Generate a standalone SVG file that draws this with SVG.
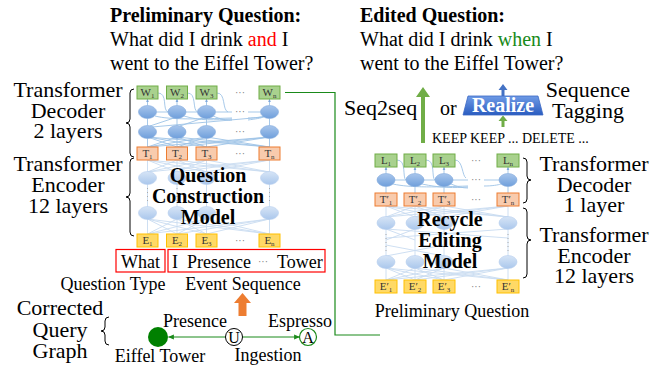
<svg xmlns="http://www.w3.org/2000/svg" width="662" height="368" viewBox="0 0 662 368">
<defs>
<style>
.t{font-family:"Liberation Serif","Times New Roman",serif;fill:#000}
.b{font-weight:bold}
.bw{fill:#a9d18e;stroke:#70ad47;stroke-width:1}
.bt{fill:#f8cbad;stroke:#ed7d31;stroke-width:1}
.be{fill:#ffd966;stroke:#ffc000;stroke-width:1}
.bx{font-family:"Liberation Serif","Times New Roman",serif;font-size:11px;fill:#333;text-anchor:middle}
.ell{fill:url(#eg);stroke:#7fa8dc;stroke-width:0.6}
.elll{fill:url(#egl);stroke:#b7cfee;stroke-width:0.6}
.ln{stroke:#9dc3e6;stroke-width:0.9;fill:none}
.lnl{stroke:#c8dbf1;stroke-width:0.9;fill:none}
.dots{font-family:"Liberation Serif",serif;font-size:10px;fill:#777;text-anchor:middle}
.vd{stroke:#aaa;stroke-width:1;stroke-dasharray:1 3;fill:none}
.br{fill:none;stroke:#000;stroke-width:1}
.g{stroke:#1a8a1a;stroke-width:1.2;fill:none}
</style>
<linearGradient id="eg" x1="0" y1="0" x2="0" y2="1"><stop offset="0" stop-color="#a9c6ec"/><stop offset="1" stop-color="#6f9fdb"/></linearGradient>
<linearGradient id="egl" x1="0" y1="0" x2="0" y2="1"><stop offset="0" stop-color="#d7e5f6"/><stop offset="1" stop-color="#aac7ec"/></linearGradient>
<linearGradient id="rg" x1="0" y1="0" x2="0" y2="1"><stop offset="0" stop-color="#6f9be6"/><stop offset="1" stop-color="#2a5cc0"/></linearGradient>
<marker id="ga" viewBox="0 0 10 10" refX="9" refY="5" markerWidth="6" markerHeight="6" orient="auto"><path d="M0,1 L10,5 L0,9 z" fill="#1a8a1a"/></marker>
<marker id="ba" viewBox="0 0 10 10" refX="9" refY="5" markerWidth="4" markerHeight="4" orient="auto"><path d="M0,1 L10,5 L0,9 z" fill="#7fa8dc"/></marker>
</defs>
<rect width="662" height="368" fill="#fff"/>

<!-- Titles -->
<g id="prelim-question">
<text class="t" font-size="20"><tspan x="110" y="22" font-weight="bold">Preliminary Question:</tspan><tspan x="110" y="46">What did I drink <tspan fill="#ff0000">and</tspan> I</tspan><tspan x="110" y="70">went to the Eiffel Tower?</tspan></text>
</g>
<g id="edited-question">
<text class="t" font-size="20"><tspan x="360" y="22" font-weight="bold">Edited Question:</tspan><tspan x="360" y="46">What did I drink <tspan fill="#1a8a1a">when</tspan> I</tspan><tspan x="360" y="70">went to the Eiffel Tower?</tspan></text>
</g>

<!-- Connectors -->
<g id="connectors">
<!-- left decoder -->
<path class="ln" d="M158,93 C168,93 162,110 168,112"/>
<path class="ln" d="M187.5,93 C197,93 192,110 197.5,112"/>
<path class="ln" d="M217,93 C226,93 222,110 228,112"/>
<line class="ln" x1="147.5" y1="105.5" x2="147.5" y2="99" marker-end="url(#ba)"/>
<line class="ln" x1="177" y1="105.5" x2="177" y2="99" marker-end="url(#ba)"/>
<line class="ln" x1="206.5" y1="105.5" x2="206.5" y2="99" marker-end="url(#ba)"/>
<line class="ln" x1="269.5" y1="105.5" x2="269.5" y2="99" marker-end="url(#ba)"/>
<line class="ln" x1="156.5" y1="112" x2="168" y2="112"/>
<line class="ln" x1="186" y1="112" x2="197.5" y2="112"/>
<line class="ln" x1="215.5" y1="112" x2="232" y2="112"/>
<line class="ln" x1="248" y1="112" x2="260.5" y2="112"/>
<path class="ln" d="M155,116 C170,120 200,119 232,118"/>
<path class="ln" d="M184,116 C200,121 215,120 232,119"/>
<path class="ln" d="M213,116 C220,119 228,121 232,120"/>
<path class="ln" d="M248,118 C255,118 262,117 264,116"/>
<path class="ln" d="M248,120 C255,119 262,118 263,117"/>
<line class="ln" x1="147.5" y1="125.5" x2="147.5" y2="118.5"/>
<line class="ln" x1="177" y1="125.5" x2="177" y2="118.5"/>
<line class="ln" x1="206.5" y1="125.5" x2="206.5" y2="118.5"/>
<line class="ln" x1="269.5" y1="125.5" x2="269.5" y2="118.5"/>
<line class="ln" x1="150" y1="126" x2="174" y2="118"/>
<line class="ln" x1="180" y1="126" x2="203" y2="118"/>
<line class="ln" x1="152" y1="127" x2="264" y2="117"/>
<line class="ln" x1="147.5" y1="147" x2="147.5" y2="138.5"/>
<line class="ln" x1="177" y1="147" x2="177" y2="138.5"/>
<line class="ln" x1="206.5" y1="147" x2="206.5" y2="138.5"/>
<line class="ln" x1="269.5" y1="147" x2="269.5" y2="138.5"/>
<line class="ln" x1="147.5" y1="147" x2="177" y2="137"/>
<line class="ln" x1="147.5" y1="147" x2="206.5" y2="137"/>
<line class="ln" x1="147.5" y1="147" x2="269.5" y2="137"/>
<line class="ln" x1="177" y1="147" x2="147.5" y2="137"/>
<line class="ln" x1="177" y1="147" x2="206.5" y2="137"/>
<line class="ln" x1="177" y1="147" x2="269.5" y2="137"/>
<line class="ln" x1="206.5" y1="147" x2="147.5" y2="137"/>
<line class="ln" x1="206.5" y1="147" x2="177" y2="137"/>
<line class="ln" x1="206.5" y1="147" x2="269.5" y2="137"/>
<line class="ln" x1="269.5" y1="147" x2="147.5" y2="137"/>
<line class="ln" x1="269.5" y1="147" x2="177" y2="137"/>
<line class="ln" x1="269.5" y1="147" x2="206.5" y2="137"/>
<!-- left encoder -->
<line class="lnl" x1="147.5" y1="160" x2="147.5" y2="234"/>
<line class="lnl" x1="177" y1="160" x2="177" y2="234"/>
<line class="lnl" x1="206.5" y1="160" x2="206.5" y2="234"/>
<line class="lnl" x1="269.5" y1="160" x2="269.5" y2="234"/>
<line class="lnl" x1="147.5" y1="172" x2="177" y2="160"/>
<line class="lnl" x1="147.5" y1="172" x2="206.5" y2="160"/>
<line class="lnl" x1="147.5" y1="172" x2="269.5" y2="160"/>
<line class="lnl" x1="177" y1="172" x2="147.5" y2="160"/>
<line class="lnl" x1="177" y1="172" x2="206.5" y2="160"/>
<line class="lnl" x1="177" y1="172" x2="269.5" y2="160"/>
<line class="lnl" x1="206.5" y1="172" x2="147.5" y2="160"/>
<line class="lnl" x1="206.5" y1="172" x2="177" y2="160"/>
<line class="lnl" x1="206.5" y1="172" x2="269.5" y2="160"/>
<line class="lnl" x1="269.5" y1="172" x2="147.5" y2="160"/>
<line class="lnl" x1="269.5" y1="172" x2="177" y2="160"/>
<line class="lnl" x1="269.5" y1="172" x2="206.5" y2="160"/>
<line class="lnl" x1="147.5" y1="234" x2="177" y2="219"/>
<line class="lnl" x1="147.5" y1="234" x2="206.5" y2="219"/>
<line class="lnl" x1="147.5" y1="234" x2="269.5" y2="219"/>
<line class="lnl" x1="177" y1="234" x2="147.5" y2="219"/>
<line class="lnl" x1="177" y1="234" x2="206.5" y2="219"/>
<line class="lnl" x1="177" y1="234" x2="269.5" y2="219"/>
<line class="lnl" x1="206.5" y1="234" x2="147.5" y2="219"/>
<line class="lnl" x1="206.5" y1="234" x2="177" y2="219"/>
<line class="lnl" x1="206.5" y1="234" x2="269.5" y2="219"/>
<line class="lnl" x1="269.5" y1="234" x2="147.5" y2="219"/>
<line class="lnl" x1="269.5" y1="234" x2="177" y2="219"/>
<line class="lnl" x1="269.5" y1="234" x2="206.5" y2="219"/>
<!-- right decoder -->
<path class="ln" d="M397,160 C407,160 402,178 406,180"/>
<path class="ln" d="M426,160 C436,160 431,178 435,180"/>
<path class="ln" d="M455,160 C463,160 462,176 466,178"/>
<line class="ln" x1="386" y1="173.5" x2="386" y2="167" marker-end="url(#ba)"/>
<line class="ln" x1="415" y1="173.5" x2="415" y2="167" marker-end="url(#ba)"/>
<line class="ln" x1="444" y1="173.5" x2="444" y2="167" marker-end="url(#ba)"/>
<line class="ln" x1="508" y1="173.5" x2="508" y2="167" marker-end="url(#ba)"/>
<line class="ln" x1="395" y1="180" x2="406" y2="180"/>
<line class="ln" x1="424" y1="180" x2="435" y2="180"/>
<line class="ln" x1="453" y1="180" x2="468" y2="180"/>
<line class="ln" x1="484" y1="180" x2="499" y2="180"/>
<path class="ln" d="M393,184 C410,188 440,187 468,186"/>
<path class="ln" d="M422,184 C440,188 455,188 468,187"/>
<path class="ln" d="M451,184 C458,187 463,188 468,188"/>
<path class="ln" d="M484,186 C492,186 498,185 501,184"/>
<line class="ln" x1="386" y1="193" x2="386" y2="186.5"/>
<line class="ln" x1="415" y1="193" x2="415" y2="186.5"/>
<line class="ln" x1="444" y1="193" x2="444" y2="186.5"/>
<line class="ln" x1="508" y1="193" x2="508" y2="186.5"/>
<!-- right encoder -->
<line class="lnl" x1="386" y1="206" x2="386" y2="280"/>
<line class="lnl" x1="415" y1="206" x2="415" y2="280"/>
<line class="lnl" x1="444" y1="206" x2="444" y2="280"/>
<line class="lnl" x1="508" y1="206" x2="508" y2="280"/>
<line class="lnl" x1="386" y1="217" x2="415" y2="206"/>
<line class="lnl" x1="386" y1="217" x2="444" y2="206"/>
<line class="lnl" x1="386" y1="217" x2="508" y2="206"/>
<line class="lnl" x1="415" y1="217" x2="386" y2="206"/>
<line class="lnl" x1="415" y1="217" x2="444" y2="206"/>
<line class="lnl" x1="415" y1="217" x2="508" y2="206"/>
<line class="lnl" x1="444" y1="217" x2="386" y2="206"/>
<line class="lnl" x1="444" y1="217" x2="415" y2="206"/>
<line class="lnl" x1="444" y1="217" x2="508" y2="206"/>
<line class="lnl" x1="508" y1="217" x2="386" y2="206"/>
<line class="lnl" x1="508" y1="217" x2="415" y2="206"/>
<line class="lnl" x1="508" y1="217" x2="444" y2="206"/>
<line class="lnl" x1="386" y1="229" x2="415" y2="240"/>
<line class="lnl" x1="415" y1="229" x2="386" y2="240"/>
<line class="lnl" x1="386" y1="229" x2="508" y2="238"/>
<line class="lnl" x1="508" y1="229" x2="386" y2="238"/>
<line class="lnl" x1="386" y1="256" x2="444" y2="245"/>
<line class="lnl" x1="444" y1="256" x2="386" y2="245"/>
<line class="lnl" x1="386" y1="280" x2="415" y2="268"/>
<line class="lnl" x1="386" y1="280" x2="444" y2="268"/>
<line class="lnl" x1="386" y1="280" x2="508" y2="268"/>
<line class="lnl" x1="415" y1="280" x2="386" y2="268"/>
<line class="lnl" x1="415" y1="280" x2="444" y2="268"/>
<line class="lnl" x1="415" y1="280" x2="508" y2="268"/>
<line class="lnl" x1="444" y1="280" x2="386" y2="268"/>
<line class="lnl" x1="444" y1="280" x2="415" y2="268"/>
<line class="lnl" x1="444" y1="280" x2="508" y2="268"/>
<line class="lnl" x1="508" y1="280" x2="386" y2="268"/>
<line class="lnl" x1="508" y1="280" x2="415" y2="268"/>
<line class="lnl" x1="508" y1="280" x2="444" y2="268"/>
<!-- green connector from decoder output to preliminary question -->
<path class="g" d="M285,92.5 H335 V335 H380"/>
<!-- graph edges -->
<line x1="225.5" y1="337" x2="168.5" y2="337" stroke="#1a8a1a" stroke-width="1" marker-end="url(#ga)"/>
<line x1="242.5" y1="337" x2="299.5" y2="337" stroke="#1a8a1a" stroke-width="1" marker-end="url(#ga)"/>
</g>

<!-- Left model -->
<g id="left-decoder">
<rect class="bw" x="137" y="86" width="21" height="13"/>
<rect class="bw" x="166.5" y="86" width="21" height="13"/>
<rect class="bw" x="196" y="86" width="21" height="13"/>
<rect class="bw" x="259" y="86" width="21" height="13"/>
<text class="bx" x="147.5" y="96">W<tspan font-size="7" dy="2">1</tspan></text>
<text class="bx" x="177" y="96">W<tspan font-size="7" dy="2">2</tspan></text>
<text class="bx" x="206.5" y="96">W<tspan font-size="7" dy="2">3</tspan></text>
<text class="bx" x="269.5" y="96">W<tspan font-size="7" dy="2">n</tspan></text>
<text class="dots" x="240" y="96">···</text>
<ellipse class="ell" cx="147.5" cy="112" rx="9" ry="6.5"/>
<ellipse class="ell" cx="177" cy="112" rx="9" ry="6.5"/>
<ellipse class="ell" cx="206.5" cy="112" rx="9" ry="6.5"/>
<ellipse class="ell" cx="269.5" cy="112" rx="9" ry="6.5"/>
<text class="dots" x="240" y="115">···</text>
<ellipse class="ell" cx="147.5" cy="132" rx="9" ry="6.5"/>
<ellipse class="ell" cx="177" cy="132" rx="9" ry="6.5"/>
<ellipse class="ell" cx="206.5" cy="132" rx="9" ry="6.5"/>
<ellipse class="ell" cx="269.5" cy="132" rx="9" ry="6.5"/>
<text class="dots" x="240" y="135">···</text>
<rect class="bt" x="137" y="147" width="21" height="13"/>
<rect class="bt" x="166.5" y="147" width="21" height="13"/>
<rect class="bt" x="196" y="147" width="21" height="13"/>
<rect class="bt" x="259" y="147" width="21" height="13"/>
<text class="bx" x="147.5" y="157">T<tspan font-size="7" dy="2">1</tspan></text>
<text class="bx" x="177" y="157">T<tspan font-size="7" dy="2">2</tspan></text>
<text class="bx" x="206.5" y="157">T<tspan font-size="7" dy="2">3</tspan></text>
<text class="bx" x="269.5" y="157">T<tspan font-size="7" dy="2">n</tspan></text>
<text class="dots" x="240" y="157">···</text>
</g>
<g id="left-encoder">
<ellipse class="elll" cx="147.5" cy="178" rx="9" ry="6.5"/>
<ellipse class="elll" cx="177" cy="178" rx="9" ry="6.5"/>
<ellipse class="elll" cx="206.5" cy="178" rx="9" ry="6.5"/>
<ellipse class="elll" cx="269.5" cy="178" rx="9" ry="6.5"/>
<line class="vd" x1="147.5" y1="188" x2="147.5" y2="204"/>
<line class="vd" x1="177" y1="188" x2="177" y2="204"/>
<line class="vd" x1="269.5" y1="188" x2="269.5" y2="204"/>
<ellipse class="elll" cx="147.5" cy="213" rx="9" ry="6.5"/>
<ellipse class="elll" cx="177" cy="213" rx="9" ry="6.5"/>
<ellipse class="elll" cx="206.5" cy="213" rx="9" ry="6.5"/>
<ellipse class="elll" cx="269.5" cy="213" rx="9" ry="6.5"/>
<rect class="be" x="137" y="234" width="21" height="13"/>
<rect class="be" x="166.5" y="234" width="21" height="13"/>
<rect class="be" x="196" y="234" width="21" height="13"/>
<rect class="be" x="259" y="234" width="21" height="13"/>
<text class="bx" x="147.5" y="244">E<tspan font-size="7" dy="2">1</tspan></text>
<text class="bx" x="177" y="244">E<tspan font-size="7" dy="2">2</tspan></text>
<text class="bx" x="206.5" y="244">E<tspan font-size="7" dy="2">3</tspan></text>
<text class="bx" x="269.5" y="244">E<tspan font-size="7" dy="2">n</tspan></text>
<text class="dots" x="240" y="244">···</text>
<text class="t b" font-size="20" text-anchor="middle"><tspan x="208" y="182">Question</tspan><tspan x="208" y="203">Construction</tspan><tspan x="208" y="224">Model</tspan></text>
</g>

<g id="left-labels">
<text class="t" font-size="22" text-anchor="middle"><tspan x="68" y="97">Transformer</tspan><tspan x="68" y="118">Decoder</tspan><tspan x="68" y="138">2 layers</tspan></text>
<text class="t" font-size="22" text-anchor="middle"><tspan x="68" y="171">Transformer</tspan><tspan x="68" y="192">Encoder</tspan><tspan x="68" y="213">12 layers</tspan></text>
<path class="br" d="M134,89 Q130,89 130,93 V119 Q130,123 126,123 Q130,123 130,127 V153 Q130,157 134,157"/>
<path class="br" d="M134,158 Q130,158 130,162 V193 Q130,197 126,197 Q130,197 130,201 V232 Q130,236 134,236"/>
</g>

<g id="input-what">
<rect x="116" y="249.5" width="49" height="22.5" fill="none" stroke="#ff0000" stroke-width="1.2"/>
<text class="t" x="140.5" y="268" font-size="18" text-anchor="middle">What</text>
</g>
<g id="input-events">
<rect x="168" y="249.5" width="157" height="22.5" fill="none" stroke="#ff0000" stroke-width="1.2"/>
<text class="t" x="172" y="268" font-size="18">I</text>
<text class="t" x="187" y="268" font-size="18">Presence</text>
<text class="dots" x="263" y="265">···</text>
<text class="t" x="277" y="268" font-size="18">Tower</text>
</g>
<text class="t" x="113" y="290" font-size="18" text-anchor="middle">Question Type</text>
<text class="t" x="243" y="290" font-size="18" text-anchor="middle">Event Sequence</text>
<polygon points="238.5,316 246.5,316 246.5,303 251,303 242.5,293 234,303 238.5,303" fill="#ed7d31"/>

<!-- Query graph -->
<g id="query-graph-label">
<text class="t" font-size="22" text-anchor="middle"><tspan x="60" y="315">Corrected</tspan><tspan x="60" y="337">Query</tspan><tspan x="60" y="358">Graph</tspan></text>
<path class="br" d="M109,317 Q105,317 105,321 V327 Q105,331 101,331 Q105,331 105,335 V341 Q105,345 109,345"/>
</g>
<g id="node-eiffel">
<circle cx="158" cy="337" r="10" fill="#008000"/>
<text class="t" x="160" y="362" font-size="18" text-anchor="middle">Eiffel Tower</text>
</g>
<g id="node-u">
<circle cx="234" cy="337" r="8.5" fill="#fff" stroke="#000" stroke-width="1"/>
<text class="t" x="234" y="343" font-size="16" text-anchor="middle">U</text>
<text class="t" x="195" y="327" font-size="18" text-anchor="middle">Presence</text>
<text class="t" x="268" y="361" font-size="18" text-anchor="middle">Ingestion</text>
</g>
<g id="node-a">
<circle cx="308" cy="337" r="8.5" fill="#fff" stroke="#1a8a1a" stroke-width="1.2"/>
<text class="t" x="308" y="343" font-size="16" text-anchor="middle">A</text>
<text class="t" x="300" y="327" font-size="18" text-anchor="middle">Espresso</text>
</g>

<!-- Right top -->
<g id="seq2seq">
<text class="t" x="344" y="115" font-size="22">Seq2seq</text>
<polygon points="421,143 425,143 425,97 430,97 423,87 416,97 421,97" fill="#70ad47"/>
<text class="t" x="440" y="115" font-size="20">or</text>
</g>
<g id="realize">
<polygon points="501.5,96 504.5,96 504.5,90 507.5,90 503,84 498.5,90 501.5,90" fill="#4472c4"/>
<polygon points="468,96 538,96 543,115 463,115" fill="url(#rg)" stroke="#3b68c4" stroke-width="0.8"/>
<text x="503" y="112" font-family="Liberation Serif,serif" font-size="20" font-weight="bold" fill="#fff" text-anchor="middle">Realize</text>
<polygon points="501.5,127 504.5,127 504.5,121 507.5,121 503,115.5 498.5,121 501.5,121" fill="#70ad47"/>
<text class="t" font-size="22" text-anchor="middle"><tspan x="588" y="97">Sequence</tspan><tspan x="588" y="118">Tagging</tspan></text>
</g>
<text class="t" x="432" y="143" font-size="14">KEEP KEEP ... DELETE ...</text>

<!-- Right model -->
<g id="right-decoder">
<rect class="bw" x="375" y="154" width="22" height="13"/>
<rect class="bw" x="404" y="154" width="22" height="13"/>
<rect class="bw" x="433" y="154" width="22" height="13"/>
<rect class="bw" x="497" y="154" width="22" height="13"/>
<text class="bx" x="386" y="164">L<tspan font-size="7" dy="2">1</tspan></text>
<text class="bx" x="415" y="164">L<tspan font-size="7" dy="2">2</tspan></text>
<text class="bx" x="444" y="164">L<tspan font-size="7" dy="2">3</tspan></text>
<text class="bx" x="508" y="164">L<tspan font-size="7" dy="2">n</tspan></text>
<text class="dots" x="476" y="164">···</text>
<ellipse class="ell" cx="386" cy="180" rx="9" ry="6.5"/>
<ellipse class="ell" cx="415" cy="180" rx="9" ry="6.5"/>
<ellipse class="ell" cx="444" cy="180" rx="9" ry="6.5"/>
<ellipse class="ell" cx="508" cy="180" rx="9" ry="6.5"/>
<text class="dots" x="476" y="183">···</text>
<rect class="bt" x="375" y="193" width="22" height="13"/>
<rect class="bt" x="404" y="193" width="22" height="13"/>
<rect class="bt" x="433" y="193" width="22" height="13"/>
<rect class="bt" x="497" y="193" width="22" height="13"/>
<text class="bx" x="386" y="203">T′<tspan font-size="7" dy="2">1</tspan></text>
<text class="bx" x="415" y="203">T′<tspan font-size="7" dy="2">2</tspan></text>
<text class="bx" x="444" y="203">T′<tspan font-size="7" dy="2">3</tspan></text>
<text class="bx" x="508" y="203">T′<tspan font-size="7" dy="2">n</tspan></text>
<text class="dots" x="476" y="203">···</text>
</g>
<g id="right-encoder">
<ellipse class="elll" cx="386" cy="223" rx="9" ry="6.5"/>
<ellipse class="elll" cx="415" cy="223" rx="9" ry="6.5"/>
<ellipse class="elll" cx="444" cy="223" rx="9" ry="6.5"/>
<ellipse class="elll" cx="508" cy="223" rx="9" ry="6.5"/>
<line class="vd" x1="386" y1="234" x2="386" y2="251"/>
<line class="vd" x1="508" y1="234" x2="508" y2="251"/>
<ellipse class="elll" cx="386" cy="262" rx="9" ry="6.5"/>
<ellipse class="elll" cx="415" cy="262" rx="9" ry="6.5"/>
<ellipse class="elll" cx="444" cy="262" rx="9" ry="6.5"/>
<ellipse class="elll" cx="508" cy="262" rx="9" ry="6.5"/>
<rect class="be" x="375" y="280" width="22" height="13"/>
<rect class="be" x="404" y="280" width="22" height="13"/>
<rect class="be" x="433" y="280" width="22" height="13"/>
<rect class="be" x="497" y="280" width="22" height="13"/>
<text class="bx" x="386" y="290">E′<tspan font-size="7" dy="2">1</tspan></text>
<text class="bx" x="415" y="290">E′<tspan font-size="7" dy="2">2</tspan></text>
<text class="bx" x="444" y="290">E′<tspan font-size="7" dy="2">3</tspan></text>
<text class="bx" x="508" y="290">E′<tspan font-size="7" dy="2">n</tspan></text>
<text class="dots" x="476" y="290">···</text>
<text class="t b" font-size="20" text-anchor="middle"><tspan x="450" y="226">Recycle</tspan><tspan x="450" y="247">Editing</tspan><tspan x="450" y="268">Model</tspan></text>
</g>
<text class="t" x="452" y="317" font-size="18" text-anchor="middle">Preliminary Question</text>

<g id="right-labels">
<path class="br" d="M523,158 Q527,158 527,162 V176 Q527,180 531,180 Q527,180 527,184 V199 Q527,203 523,203"/>
<path class="br" d="M523,208 Q527,208 527,212 V236 Q527,240 531,240 Q527,240 527,244 V274 Q527,278 523,278"/>
<text class="t" font-size="22" text-anchor="middle"><tspan x="594" y="171">Transformer</tspan><tspan x="594" y="192">Decoder</tspan><tspan x="594" y="212">1 layer</tspan></text>
<text class="t" font-size="22" text-anchor="middle"><tspan x="594" y="242">Transformer</tspan><tspan x="594" y="263">Encoder</tspan><tspan x="594" y="283">12 layers</tspan></text>
</g>
</svg>
